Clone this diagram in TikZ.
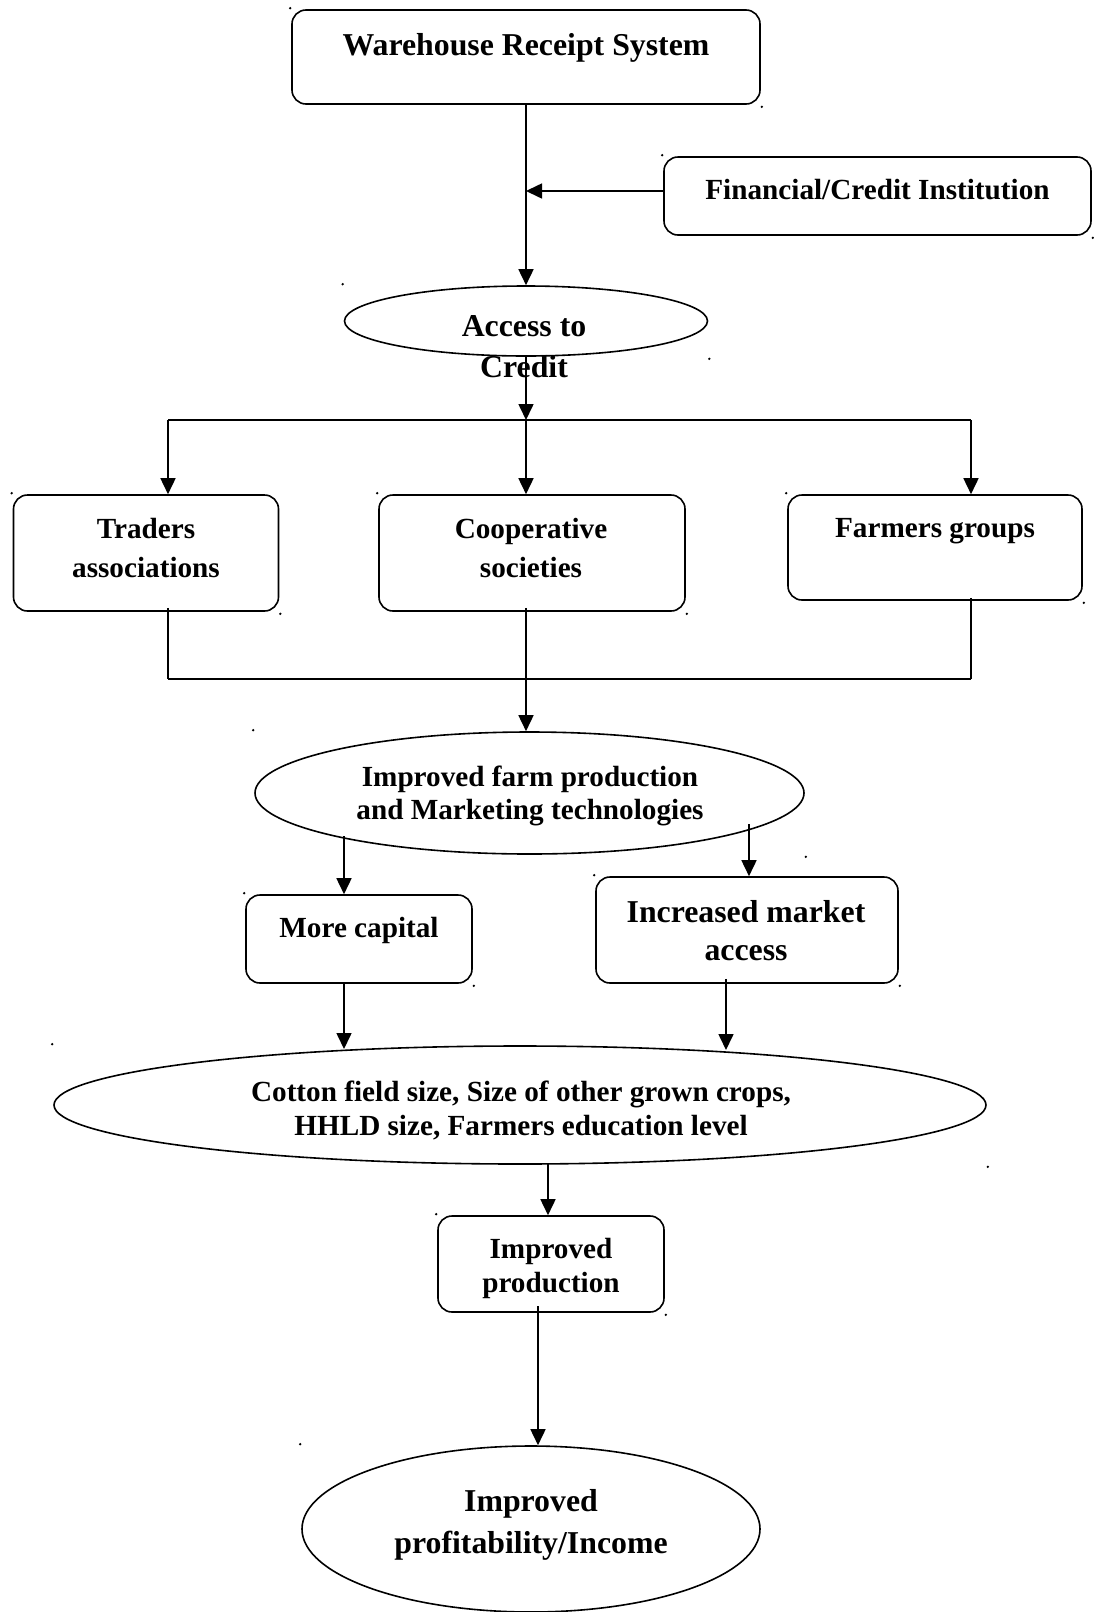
\documentclass[tikz,border=0pt]{standalone}
\usepackage{fontspec}
\setmainfont{Liberation Serif}
\usetikzlibrary{shapes.geometric,arrows.meta,calc}
\tikzset{
 conn/.style={line width=1.6pt},
 arr/.style={conn,-{Triangle[length=16pt,width=15pt]}},
 rbox/.style={draw,line width=1.6pt,rounded corners=14pt,inner sep=0pt,rectangle},
 ell/.style={draw,ellipse,line width=1.6pt,inner sep=0pt},
 txt/.style={font=\bfseries\fontsize{29.2}{34}\selectfont,align=center,inner sep=0pt},
 txtL/.style={font=\bfseries\fontsize{31.8}{41}\selectfont,align=center,inner sep=0pt},
}
\newcommand\markcorners[1]{%
  \fill ($(#1.west |- #1.north)+(-1,-1)$) circle (1.3pt);
  \fill ($(#1.east |- #1.south)+(1,2)$) circle (1.3pt);}
\begin{document}
\begin{tikzpicture}[x=1pt,y=-1pt]
\useasboundingbox (0,0) rectangle (1093,1612);
% shapes
\node[rbox,minimum width=468pt,minimum height=94pt] (wrs) at (526,57) {};
\node[rbox,minimum width=427pt,minimum height=78pt] (fin) at (877.5,196) {};
\node[ell,minimum width=363pt,minimum height=70pt] (acc) at (526,321) {};
\node[rbox,minimum width=265pt,minimum height=116pt] (tra) at (146,553) {};
\node[rbox,minimum width=306pt,minimum height=116pt] (coop) at (532,553) {};
\node[rbox,minimum width=294pt,minimum height=105pt] (farm) at (935,547.5) {};
\node[ell,minimum width=549pt,minimum height=122pt] (ifp) at (529.5,793) {};
\node[rbox,minimum width=226pt,minimum height=88pt] (cap) at (359,939) {};
\node[rbox,minimum width=302pt,minimum height=106pt] (mkt) at (747,930) {};
\node[ell,minimum width=932pt,minimum height=118pt] (cot) at (520,1105) {};
\node[rbox,minimum width=226pt,minimum height=96pt] (prod) at (551,1264) {};
\node[ell,minimum width=458pt,minimum height=166pt] (inc) at (531,1529) {};
% texts
\node[txtL] (wrs-t) at (526,47.5) {Warehouse Receipt System};
\node[txt] (fin-t) at (877.5,190) {Financial/Credit Institution};
\node[txtL,font=\bfseries\fontsize{31.8}{41}\selectfont] (acc-t) at (524,347) {Access to\\Credit};
\node[txt,font=\bfseries\fontsize{29.2}{39}\selectfont] (tra-t) at (146,548.5) {Traders\\associations};
\node[txt,font=\bfseries\fontsize{29.2}{39}\selectfont] (coop-t) at (531,548.5) {Cooperative\\societies};
\node[txt] (farm-t) at (935,531) {Farmers groups};
\node[txt,font=\bfseries\fontsize{29.2}{33}\selectfont] (ifp-t) at (530,795.5) {Improved farm production\\and Marketing technologies};
\node[txt] (cap-t) at (359,930) {More capital};
\node[txtL,font=\bfseries\fontsize{31.8}{38}\selectfont] (mkt-t) at (746,931) {Increased market\\access};
\node[txt] (cot-t) at (521,1110) {Cotton field size, Size of other grown crops,\\HHLD size, Farmers education level};
\node[txt] (prod-t) at (551,1268) {Improved\\production};
\node[txtL,font=\bfseries\fontsize{31.8}{42}\selectfont] (inc-t) at (531,1525) {Improved\\profitability/Income};
% connector coordinates
\coordinate (j1) at (526,191);
\coordinate (j2) at (526,420);
\coordinate (jl) at (168,420);
\coordinate (jr) at (971,420);
\coordinate (kl) at (168,679);
\coordinate (km) at (526,679);
\coordinate (kr) at (971,679);
\coordinate (a1) at (344,836);
\coordinate (a2) at (749,824);
\coordinate (b1) at (344,1049);
\coordinate (b2) at (726,1050);
\coordinate (c1) at (548,1164);
\coordinate (d1) at (538,1306);
% connectors
\draw[arr] (wrs) -- (acc);
\draw[arr] (fin.west |- j1) -- (j1);
\draw[arr] (acc) -- (j2);
\draw[conn] (jl) -- (jr);
\draw[arr] (jl) -- (jl |- tra.north);
\draw[arr] (j2) -- (j2 |- coop.north);
\draw[arr] (jr) -- (jr |- farm.north);
\draw[conn] ([yshift=4pt]kl |- tra.south) -- (kl);
\draw[conn] ([yshift=3pt]kr |- farm.south) -- (kr);
\draw[conn] (kl) -- (kr);
\draw[arr] ([yshift=4pt]km |- coop.south) -- (km |- ifp.north);
\draw[arr] (a1) -- (a1 |- cap.north);
\draw[arr] (a2) -- (a2 |- mkt.north);
\draw[arr] (a1 |- cap.south) -- (b1);
\draw[arr] ([yshift=5pt]b2 |- mkt.south) -- (b2);
\draw[arr] (c1) -- (c1 |- prod.north);
\draw[arr] (d1) -- (d1 |- inc.north);
% corner marks
\markcorners{wrs}\markcorners{fin}\markcorners{acc}\markcorners{tra}
\markcorners{coop}\markcorners{farm}\markcorners{ifp}\markcorners{cap}
\markcorners{mkt}\markcorners{cot}\markcorners{prod}
\fill ($(inc.west |- inc.north)+(-1,-1)$) circle (1.3pt);
\end{tikzpicture}
\end{document}
